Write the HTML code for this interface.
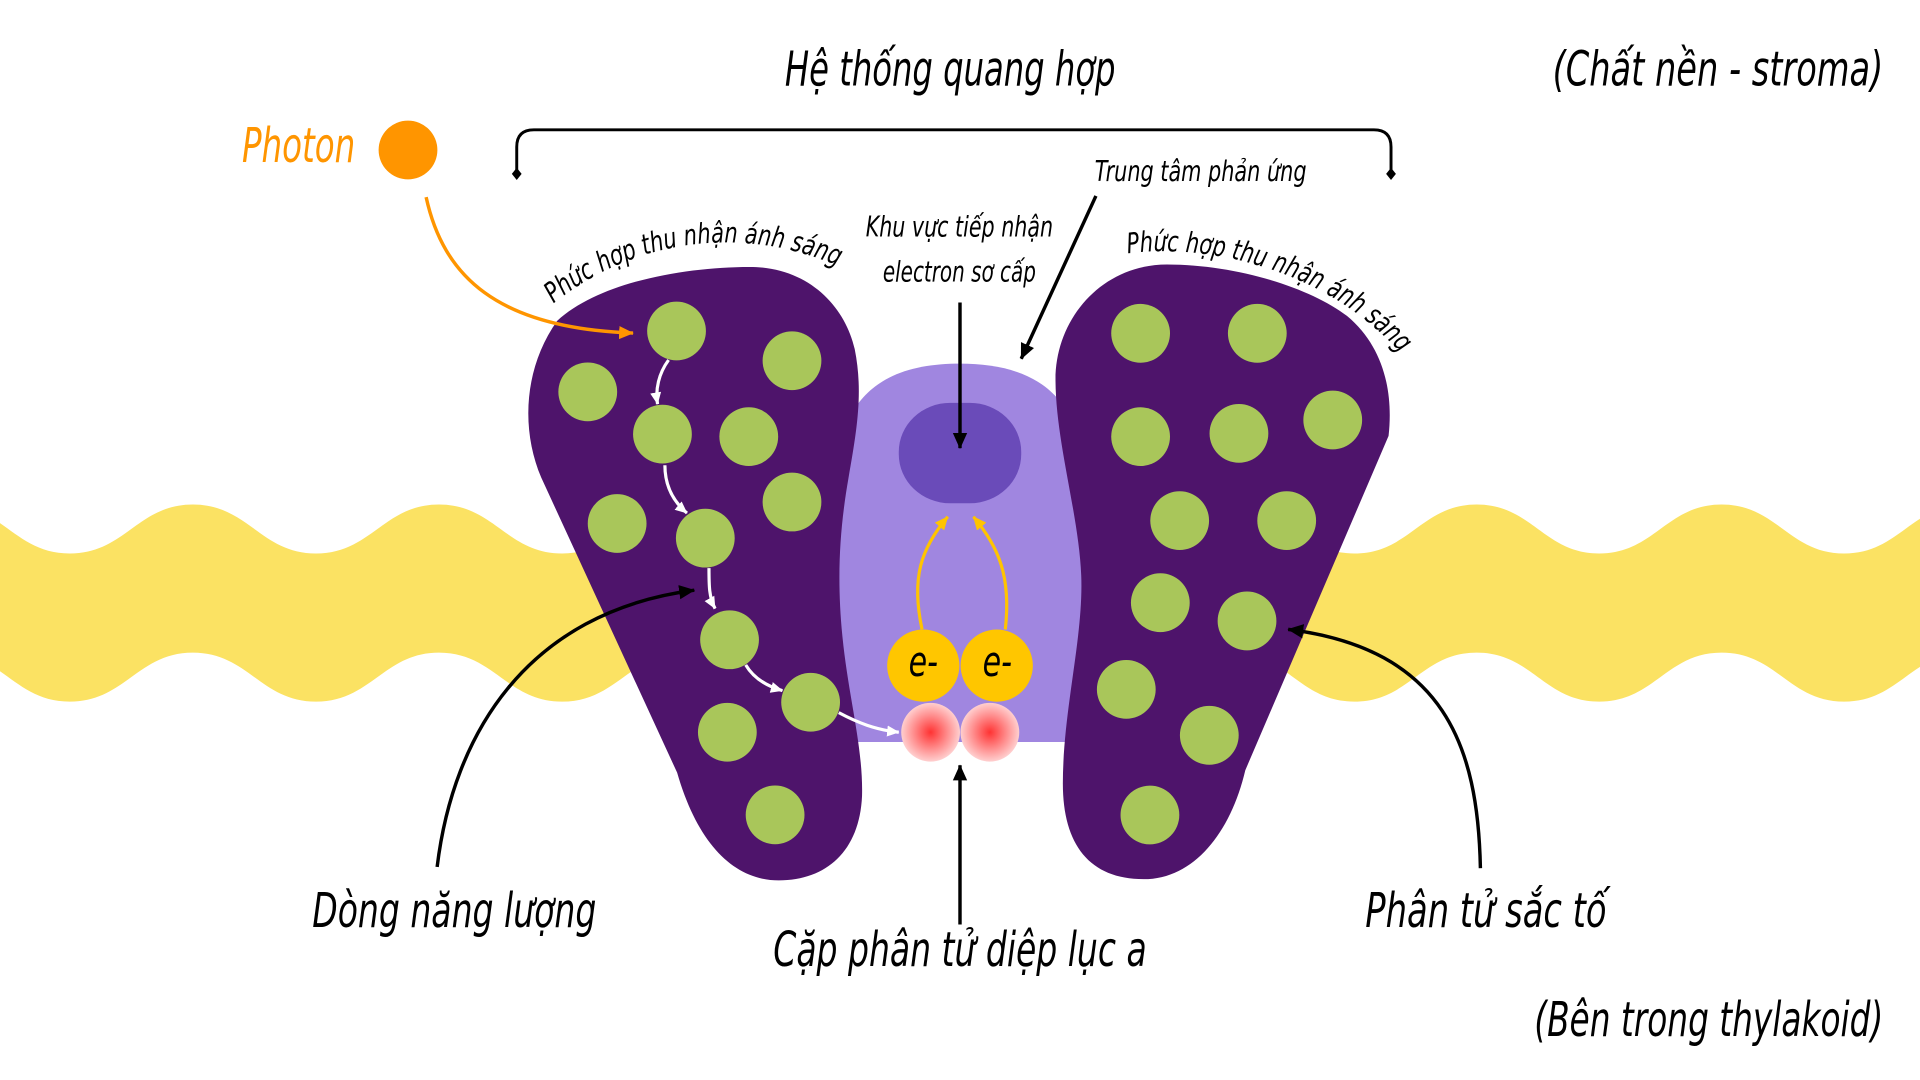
<!DOCTYPE html>
<html>
<head>
<meta charset="utf-8">
<style>
html,body{margin:0;padding:0;background:#ffffff;width:1920px;height:1080px;overflow:hidden}
svg{display:block}
text{font-family:"DejaVu Sans Condensed","DejaVu Sans","Liberation Sans",sans-serif;font-style:italic;fill:#000}
</style>
</head>
<body>
<svg width="1920" height="1080" viewBox="0 0 1568 882" xmlns="http://www.w3.org/2000/svg">
<defs>
  <marker id="mkB" viewBox="0 0 10 10" refX="9.5" refY="5" markerWidth="13" markerHeight="13" orient="auto" markerUnits="userSpaceOnUse">
    <path d="M0,0.5 L10,5 L0,9.5 Z" fill="#000"/>
  </marker>
  <marker id="mkW" viewBox="0 0 10 10" refX="9.5" refY="5" markerWidth="10" markerHeight="10" orient="auto" markerUnits="userSpaceOnUse">
    <path d="M0,0.5 L10,5 L0,9.5 Z" fill="#fff"/>
  </marker>
  <marker id="mkO" viewBox="0 0 10 10" refX="9.5" refY="5" markerWidth="12" markerHeight="12" orient="auto" markerUnits="userSpaceOnUse">
    <path d="M0,0.5 L10,5 L0,9.5 Z" fill="#FF9500"/>
  </marker>
  <marker id="mkY" viewBox="0 0 10 10" refX="9.5" refY="5" markerWidth="11" markerHeight="11" orient="auto" markerUnits="userSpaceOnUse">
    <path d="M0,0.5 L10,5 L0,9.5 Z" fill="#FFC400"/>
  </marker>
  <radialGradient id="rg" cx="50%" cy="50%" r="50%">
    <stop offset="0%" stop-color="#FF3333"/>
    <stop offset="55%" stop-color="#FF8A8A"/>
    <stop offset="100%" stop-color="#FFCFCF"/>
  </radialGradient>
  <path id="arcL" d="M 434.6 263.6 A 224 224 0 0 1 764.6 278"/>
  <path id="arcR" d="M 921 207 C 985 198, 1085 220, 1145 290 L 1163 311"/>
</defs>

<path fill="#FBE263" d="M -144 452 C -99 452, -88.5 412, -43.5 412 C 1.5 412, 12 452, 57 452 C 102 452, 112.5 412, 157.5 412 C 202.5 412, 213 452, 258 452 C 303 452, 313.5 412, 358.5 412 C 403.5 412, 414 452, 459 452 C 504 452, 514.5 412, 559.5 412 C 604.5 412, 615 452, 660 452 L 660 573 C 615 573, 604.5 533, 559.5 533 C 514.5 533, 504 573, 459 573 C 414 573, 403.5 533, 358.5 533 C 313.5 533, 303 573, 258 573 C 213 573, 202.5 533, 157.5 533 C 112.5 533, 102 573, 57 573 C 12 573, 1.5 533, -43.5 533 C -88.5 533, -99 573, -144 573 Z"/>
<path fill="#FBE263" d="M 906 452 C 951 452, 961 412, 1006 412 C 1051 412, 1061 452, 1106 452 C 1151 452, 1161 412, 1206 412 C 1251 412, 1261 452, 1306 452 C 1351 452, 1361 412, 1406 412 C 1451 412, 1461 452, 1506 452 C 1551 452, 1561 412, 1606 412 C 1651 412, 1661 452, 1706 452 L 1706 573 C 1661 573, 1651 533, 1606 533 C 1561 533, 1551 573, 1506 573 C 1461 573, 1451 533, 1406 533 C 1361 533, 1351 573, 1306 573 C 1261 573, 1251 533, 1206 533 C 1161 533, 1151 573, 1106 573 C 1061 573, 1051 533, 1006 533 C 961 533, 951 573, 906 573 Z"/>

<path fill="#A086E0" d="M 682 606 L 682 400 C 682 318, 728 297, 784 297 C 842 297, 886 320, 886 400 L 886 606 Z"/>
<rect x="734" y="329" width="100" height="82" rx="42" ry="40" fill="#6A4BB9"/>

<path fill="#4E146B" d="M 612 218 C 660 218, 690 250, 698 285 C 705 320, 700 350, 693 390 C 686 430, 683 470, 688 520 C 693 570, 705 610, 704 650 C 702 695, 675 719, 636 719 C 600 719, 570 690, 553 631 L 442 390 C 425 350, 428 300, 455 262 C 490 230, 560 218, 612 218 Z"/>
<path fill="#4E146B" d="M 953 216 C 1010 216, 1070 235, 1100 258 C 1130 283, 1138 320, 1134 356 L 1017 629 C 1005 680, 975 718, 934 718 C 890 718, 868 690, 868 640 C 868 580, 885 520, 883 470 C 881 420, 862 360, 862 310 C 862 260, 900 216, 953 216 Z"/>

<g fill="#A9C65A">
  <circle cx="552.5" cy="270.3" r="24"/>
  <circle cx="646.8" cy="294.6" r="24"/>
  <circle cx="480" cy="320" r="24"/>
  <circle cx="541" cy="354.5" r="24"/>
  <circle cx="611.5" cy="356.6" r="24"/>
  <circle cx="646.8" cy="410" r="24"/>
  <circle cx="504" cy="427.5" r="24"/>
  <circle cx="576" cy="439.5" r="24"/>
  <circle cx="595.8" cy="522.5" r="24"/>
  <circle cx="662" cy="573.5" r="24"/>
  <circle cx="594" cy="598" r="24"/>
  <circle cx="633" cy="665.5" r="24"/>
  <circle cx="931.5" cy="272.2" r="24"/>
  <circle cx="1026.8" cy="272.2" r="24"/>
  <circle cx="1088.4" cy="343" r="24"/>
  <circle cx="931.5" cy="356.6" r="24"/>
  <circle cx="1011.8" cy="353.9" r="24"/>
  <circle cx="963.4" cy="425.2" r="24"/>
  <circle cx="1050.8" cy="425.2" r="24"/>
  <circle cx="947.6" cy="492.2" r="24"/>
  <circle cx="1018.4" cy="507.1" r="24"/>
  <circle cx="919.8" cy="563" r="24"/>
  <circle cx="987.6" cy="600.5" r="24"/>
  <circle cx="939.1" cy="665.6" r="24"/>
</g>

<circle cx="760" cy="598" r="24" fill="url(#rg)"/>
<circle cx="808.4" cy="598" r="24" fill="url(#rg)"/>

<circle cx="754" cy="543.6" r="29.5" fill="#FFC600"/>
<circle cx="814" cy="543.6" r="29.5" fill="#FFC600"/>
<text x="742" y="552" font-size="34" textLength="24" lengthAdjust="spacingAndGlyphs">e-</text>
<text x="802.5" y="552" font-size="34" textLength="24" lengthAdjust="spacingAndGlyphs">e-</text>

<g fill="none" stroke="#FFC400" stroke-width="2.6">
  <path d="M 753 514 C 744 472, 752 448, 774 422" marker-end="url(#mkY)"/>
  <path d="M 821 514 C 826 470, 815 446, 795 422" marker-end="url(#mkY)"/>
</g>

<g fill="none" stroke="#fff" stroke-width="2.6">
  <path d="M 546 294 C 538 305, 535 318, 537 330" marker-end="url(#mkW)"/>
  <path d="M 543 380 C 543 395, 548 408, 561 419" marker-end="url(#mkW)"/>
  <path d="M 579 464 C 579 478, 579 488, 584 497" marker-end="url(#mkW)"/>
  <path d="M 609 543 C 615 553, 625 560, 639 564" marker-end="url(#mkW)"/>
  <path d="M 685 582 C 700 590, 715 596, 734 598" marker-end="url(#mkW)"/>
</g>

<circle cx="333.2" cy="122.5" r="24" fill="#FF9500"/>
<path d="M 348 161 C 362 225, 405 268, 517 272" fill="none" stroke="#FF9500" stroke-width="2.8" marker-end="url(#mkO)"/>
<text x="197.6" y="132.5" font-size="39" textLength="92.5" lengthAdjust="spacingAndGlyphs" style="fill:#FF9500">Photon</text>

<path d="M 422 142 L 422 120 Q 422 106 436 106 L 1122 106 Q 1136 106 1136 120 L 1136 142" fill="none" stroke="#000" stroke-width="2.4"/>
<path d="M 422 137 L 426 142 L 422 147 L 418 142 Z" fill="#000"/>
<path d="M 1136 137 L 1140 142 L 1136 147 L 1132 142 Z" fill="#000"/>

<g fill="none" stroke="#000" stroke-width="2.8">
  <path d="M 895 160 L 834 293" marker-end="url(#mkB)"/>
  <path d="M 784 247 L 784 366" marker-end="url(#mkB)"/>
  <path d="M 784 755 L 784 625" marker-end="url(#mkB)"/>
  <path d="M 357 708 C 370 600, 430 500, 567 482" marker-end="url(#mkB)"/>
  <path d="M 1209 709 C 1207 610, 1180 530, 1052 514" marker-end="url(#mkB)"/>
</g>

<text x="641" y="70" font-size="39" textLength="270" lengthAdjust="spacingAndGlyphs">Hệ thống quang hợp</text>
<text x="1268" y="70" font-size="39" textLength="270" lengthAdjust="spacingAndGlyphs">(Chất nền - stroma)</text>
<text x="894" y="148" font-size="23" textLength="173" lengthAdjust="spacingAndGlyphs">Trung tâm phản ứng</text>
<text x="707" y="193" font-size="23" textLength="153" lengthAdjust="spacingAndGlyphs">Khu vực tiếp nhận</text>
<text x="721" y="230" font-size="23" textLength="125" lengthAdjust="spacingAndGlyphs">electron sơ cấp</text>

<text font-size="23"><textPath href="#arcL" startOffset="23.5" textLength="246" lengthAdjust="spacingAndGlyphs">Phức hợp thu nhận ánh sáng</textPath></text>
<text font-size="23"><textPath href="#arcR" startOffset="0" textLength="246" lengthAdjust="spacingAndGlyphs">Phức hợp thu nhận ánh sáng</textPath></text>

<text x="255" y="757" font-size="39" textLength="232" lengthAdjust="spacingAndGlyphs">Dòng năng lượng</text>
<text x="631.5" y="789" font-size="39" textLength="305" lengthAdjust="spacingAndGlyphs">Cặp phân tử diệp lục a</text>
<text x="1115" y="757" font-size="39" textLength="197" lengthAdjust="spacingAndGlyphs">Phân tử sắc tố</text>
<text x="1253" y="846" font-size="39" textLength="285" lengthAdjust="spacingAndGlyphs">(Bên trong thylakoid)</text>
</svg>
</body>
</html>
